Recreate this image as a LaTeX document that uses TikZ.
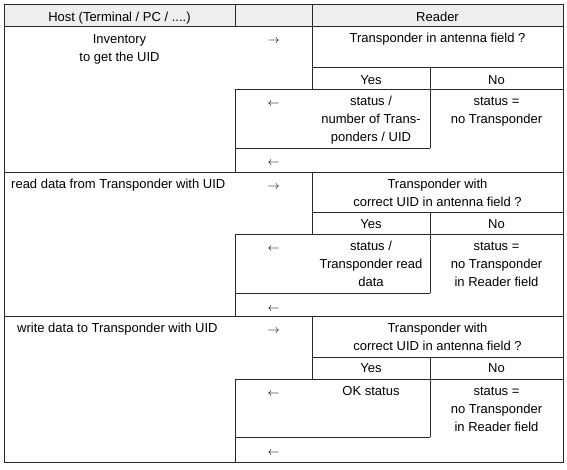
\documentclass[tikz,border=0pt]{standalone}
\usepackage{fontspec}
\setmainfont{Liberation Sans}
\usepackage{tikz}
\usetikzlibrary{positioning}
\definecolor{RuleGray}{RGB}{40,40,40}
\definecolor{HeadGray}{RGB}{238,238,238}

\begin{document}
\begin{tikzpicture}[
    x=1pt,
    y=-1pt,
%
    rule/.style={
        draw=RuleGray,
        line width=0.8pt
    },
%
    txt/.style={
        anchor=base,
        inner sep=0pt,
        align=center,
        font=\fontsize{13}{18}\selectfont
    },
%
    txtleft/.style={
        txt,
        anchor=base west
    },
%
    dirarrow/.style={
        txt,
        font=\fontsize{12}{14}\selectfont
    }
]
\useasboundingbox (0,0) rectangle (567,469);
%
% Header row: host side, arrow column, reader side.
%
\fill[HeadGray] (4,4) rectangle (563,26);
\node[txt] (hhost) at (119.5,21) {Host (Terminal / PC / ....)};
\node[txt] (hreader) at (437.5,21) {Reader};
%
% Grid lines.
%
\draw[rule] (4,4) rectangle (563,462);
\draw[rule] (235,4) -- (235,26);
\draw[rule] (312,4) -- (312,26);
\draw[rule] (4,26) -- (563,26);
% first block
\draw[rule] (312,26) -- (312,89);
\draw[rule] (312,67) -- (563,67);
\draw[rule] (430,67) -- (430,148);
\draw[rule] (235,89) -- (563,89);
\draw[rule] (235,89) -- (235,172);
\draw[rule] (235,148) -- (430,148);
\draw[rule] (4,172) -- (563,172);
% second block
\draw[rule] (312,172) -- (312,234);
\draw[rule] (312,212) -- (563,212);
\draw[rule] (430,212) -- (430,293);
\draw[rule] (235,234) -- (563,234);
\draw[rule] (235,234) -- (235,316);
\draw[rule] (235,293) -- (430,293);
\draw[rule] (4,316) -- (563,316);
% third block
\draw[rule] (312,316) -- (312,379);
\draw[rule] (312,357) -- (563,357);
\draw[rule] (430,357) -- (430,437);
\draw[rule] (235,379) -- (563,379);
\draw[rule] (235,379) -- (235,462);
\draw[rule] (235,437) -- (430,437);
%
% Inventory (multi-line texts sit on the baseline of their last line).
%
\node[txt] (inv) at (119.5,61) {Inventory\\to get the UID};
\node[dirarrow] (inva) at (273.5,43) {$\rightarrow$};
\node[txt] (invq) at (437.5,42) {Transponder in antenna field ?};
\node[txt] (invyes) at (371,84) {Yes};
\node[txt] (invno) at (496.5,84) {No};
\node[dirarrow] (invb) at (273.5,106) {$\leftarrow$};
\node[txt] (invok) at (371,141) {status /\\number of Trans-\\ponders / UID};
\node[txt] (invnok) at (496.5,123) {status =\\no Transponder};
\node[dirarrow] (invc) at (273.5,165) {$\leftarrow$};
%
% Read data.
%
\node[txtleft] (rd) at (11,188) {read data from Transponder with UID};
\node[dirarrow] (rda) at (273.5,189) {$\rightarrow$};
\node[txt] (rdq) at (437.5,206) {Transponder with\\correct UID in antenna field ?};
\node[txt] (rdyes) at (371,228) {Yes};
\node[txt] (rdno) at (496.5,228) {No};
\node[dirarrow] (rdb) at (273.5,251) {$\leftarrow$};
\node[txt] (rdok) at (371,286) {status /\\Transponder read\\data};
\node[txt] (rdnok) at (496.5,286) {status =\\no Transponder\\in Reader field};
\node[dirarrow] (rdc) at (273.5,311) {$\leftarrow$};
%
% Write data.
%
\node[txtleft] (wr) at (17,332) {write data to Transponder with UID};
\node[dirarrow] (wra) at (273.5,333) {$\rightarrow$};
\node[txt] (wrq) at (437.5,350) {Transponder with\\correct UID in antenna field ?};
\node[txt] (wryes) at (371,372) {Yes};
\node[txt] (wrno) at (496.5,372) {No};
\node[dirarrow] (wrb) at (273.5,396) {$\leftarrow$};
\node[txt] (wrok) at (371,395) {OK status};
\node[txt] (wrnok) at (496.5,431) {status =\\no Transponder\\in Reader field};
\node[dirarrow] (wrc) at (273.5,455) {$\leftarrow$};
%
\end{tikzpicture}
\end{document}
